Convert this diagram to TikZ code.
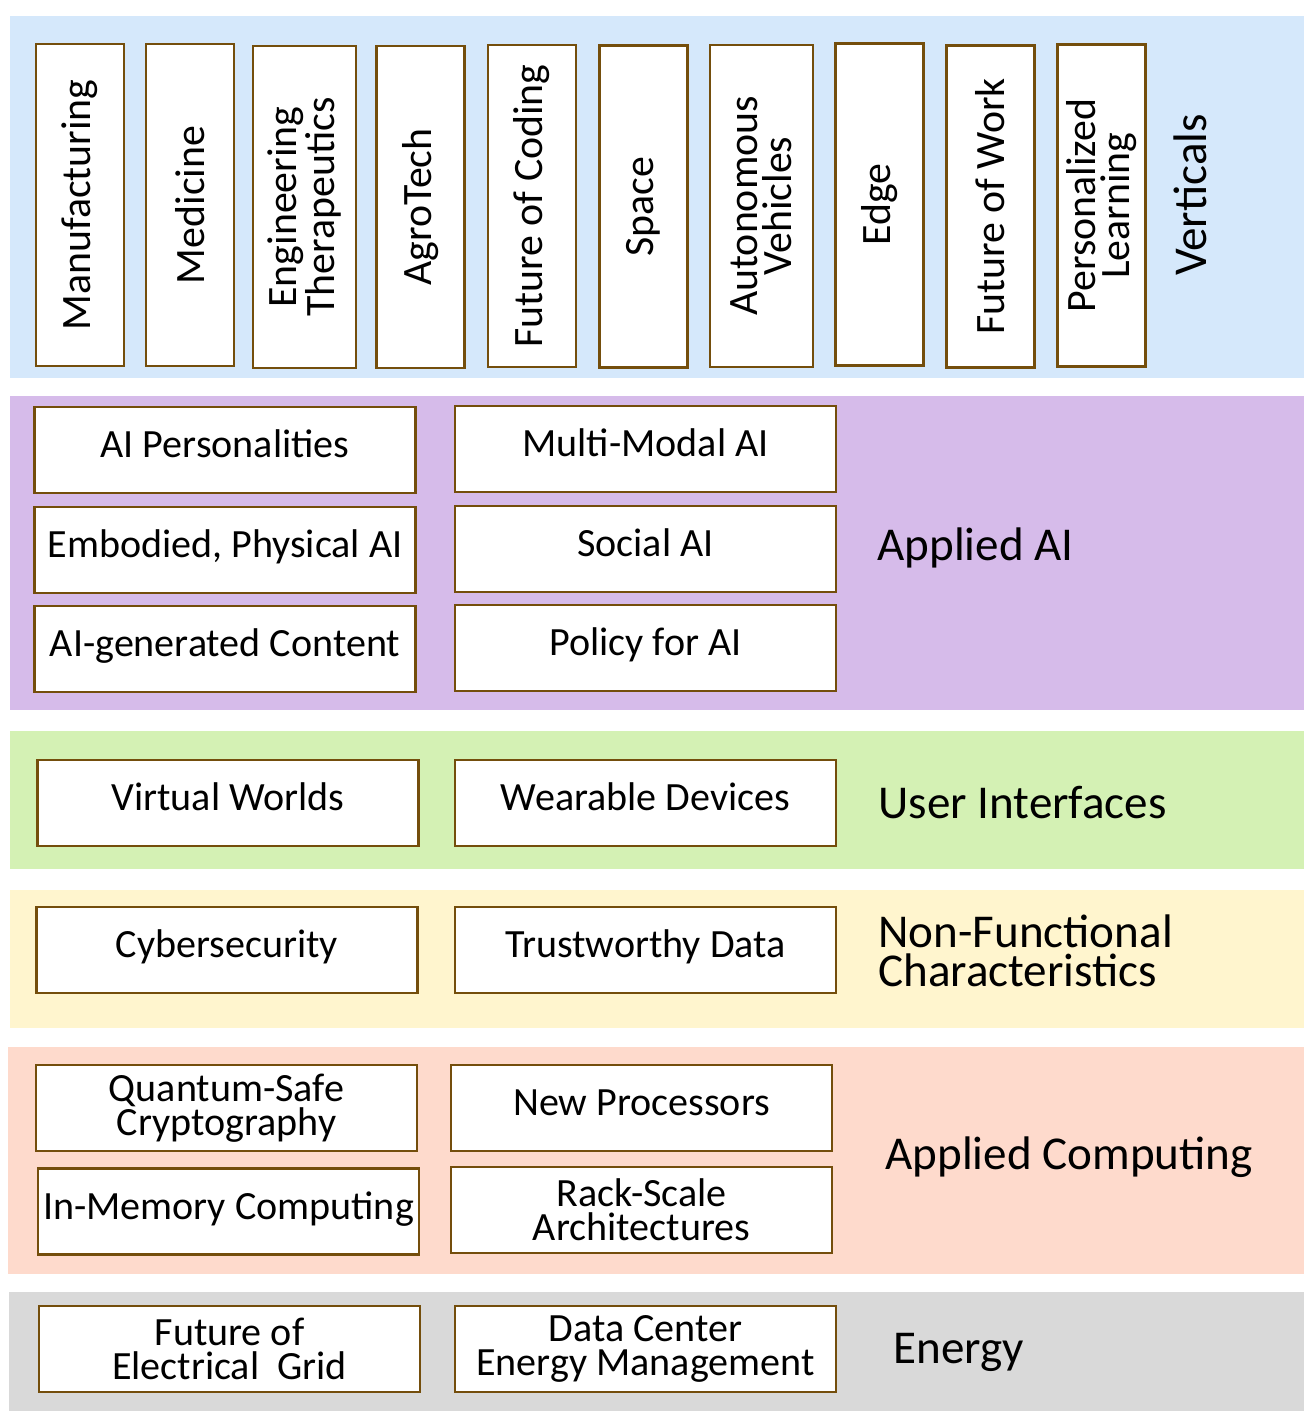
\documentclass[tikz,border=0pt]{standalone}
\usepackage{fontspec}
\setmainfont{Carlito}
\definecolor{vertblue}{RGB}{213,232,251}
\definecolor{aipurple}{RGB}{214,187,234}
\definecolor{uigreen}{RGB}{212,241,180}
\definecolor{nfyellow}{RGB}{255,245,206}
\definecolor{acpeach}{RGB}{254,218,204}
\definecolor{engray}{RGB}{217,217,217}
\definecolor{boxbrown}{RGB}{116,78,12}

\begin{document}
\begin{tikzpicture}[
        x=0.2mm, y=-0.2mm,
        hbox/.style={rectangle, draw=boxbrown, line width=1.6pt, fill=white,
          minimum width=76.2mm, minimum height=17.2mm, inner sep=0pt, align=center,
          text height=16pt, text depth=7pt,
          font=\fontsize{22.8pt}{19.5pt}\selectfont},
        twoline/.style={text height={}, text depth={}},
        vbox/.style={hbox, twoline, rotate=90, minimum width=64.4mm, minimum height=17.6mm,
          font=\fontsize{23.8pt}{19.5pt}\selectfont},
        vwide/.style={vbox, minimum height=20.6mm},
        lbl/.style={anchor=west, inner sep=0pt, align=left,
          font=\fontsize{26.8pt}{22.2pt}\selectfont}
    ]
      \useasboundingbox (0,0) rectangle (1304,1411);

      % bands
      \fill[vertblue] (10,16) rectangle (1304,378);
      \fill[aipurple] (10,396) rectangle (1304,710);
      \fill[uigreen]  (10,731) rectangle (1304,869);
      \fill[nfyellow] (10,890) rectangle (1304,1028);
      \fill[acpeach]  (8,1047) rectangle (1304,1274);
      \fill[engray]   (9,1292) rectangle (1304,1411);

      % Verticals
      \node[vbox]  (manuf) at (80,205)     {Manufacturing};
      \node[vbox]  (med)   at (190,205)    {Medicine};
      \node[vwide] (ength) at (304.5,207)  {Engineering\\Therapeutics};
      \node[vbox]  (agro)  at (420.5,207)  {AgroTech};
      \node[vbox]  (fcode) at (532,206)    {Future of Coding};
      \node[vbox]  (space) at (643.5,206.5) {Space};
      \node[vwide] (auto)  at (761.5,206)  {Autonomous\\Vehicles};
      \node[vbox]  (edge)  at (879.5,204.5) {Edge};
      \node[vbox]  (fwork) at (990.5,206.5) {Future of Work};
      \node[vbox]  (plearn) at (1101.5,205.5) {Personalized\\Learning};
      \node[lbl, anchor=center, rotate=90] (vert) at (1190,195) {Verticals};

      % Applied AI
      \node[hbox] (aipers)  at (225,450)   {AI Personalities};
      \node[hbox] (embod)   at (225,550)   {Embodied, Physical AI};
      \node[hbox] (aigen)   at (225,649)   {AI-generated Content};
      \node[hbox] (mmodal)  at (645.5,449) {Multi-Modal AI};
      \node[hbox] (social)  at (645.5,549) {Social AI};
      \node[hbox] (policy)  at (645.5,648) {Policy for AI};
      \node[lbl] (appai) at (877,548) {Applied AI};

      % User Interfaces
      \node[hbox] (virt) at (228,803)   {Virtual Worlds};
      \node[hbox] (wear) at (645.5,803) {Wearable Devices};
      \node[lbl] (ui) at (878,803) {User Interfaces};

      % Non-Functional Characteristics
      \node[hbox] (cyber) at (227,950)   {Cybersecurity};
      \node[hbox] (trust) at (645.5,950) {Trustworthy Data};
      \node[lbl] (nonfunc) at (878,951) {Non-Functional\\Characteristics};

      % Applied Computing
      \node[hbox, twoline] (qsafe) at (226.5,1108)  {Quantum-Safe\\Cryptography};
      \node[hbox] (inmem) at (228.5,1211.5) {In-Memory Computing};
      \node[hbox] (nproc) at (641.5,1108)  {New Processors};
      \node[hbox, twoline] (rack)  at (641.5,1210) {Rack-Scale\\Architectures};
      \node[lbl] (appcomp) at (885,1157) {Applied Computing};

      % Energy
      \node[hbox, twoline] (grid) at (229.5,1349) {Future of\\Electrical\ \ Grid};
      \node[hbox, twoline] (dcem) at (645.5,1349) {Data Center\\Energy Management};
      \node[lbl] (energy) at (893,1352) {Energy};
    \end{tikzpicture}
\end{document}
